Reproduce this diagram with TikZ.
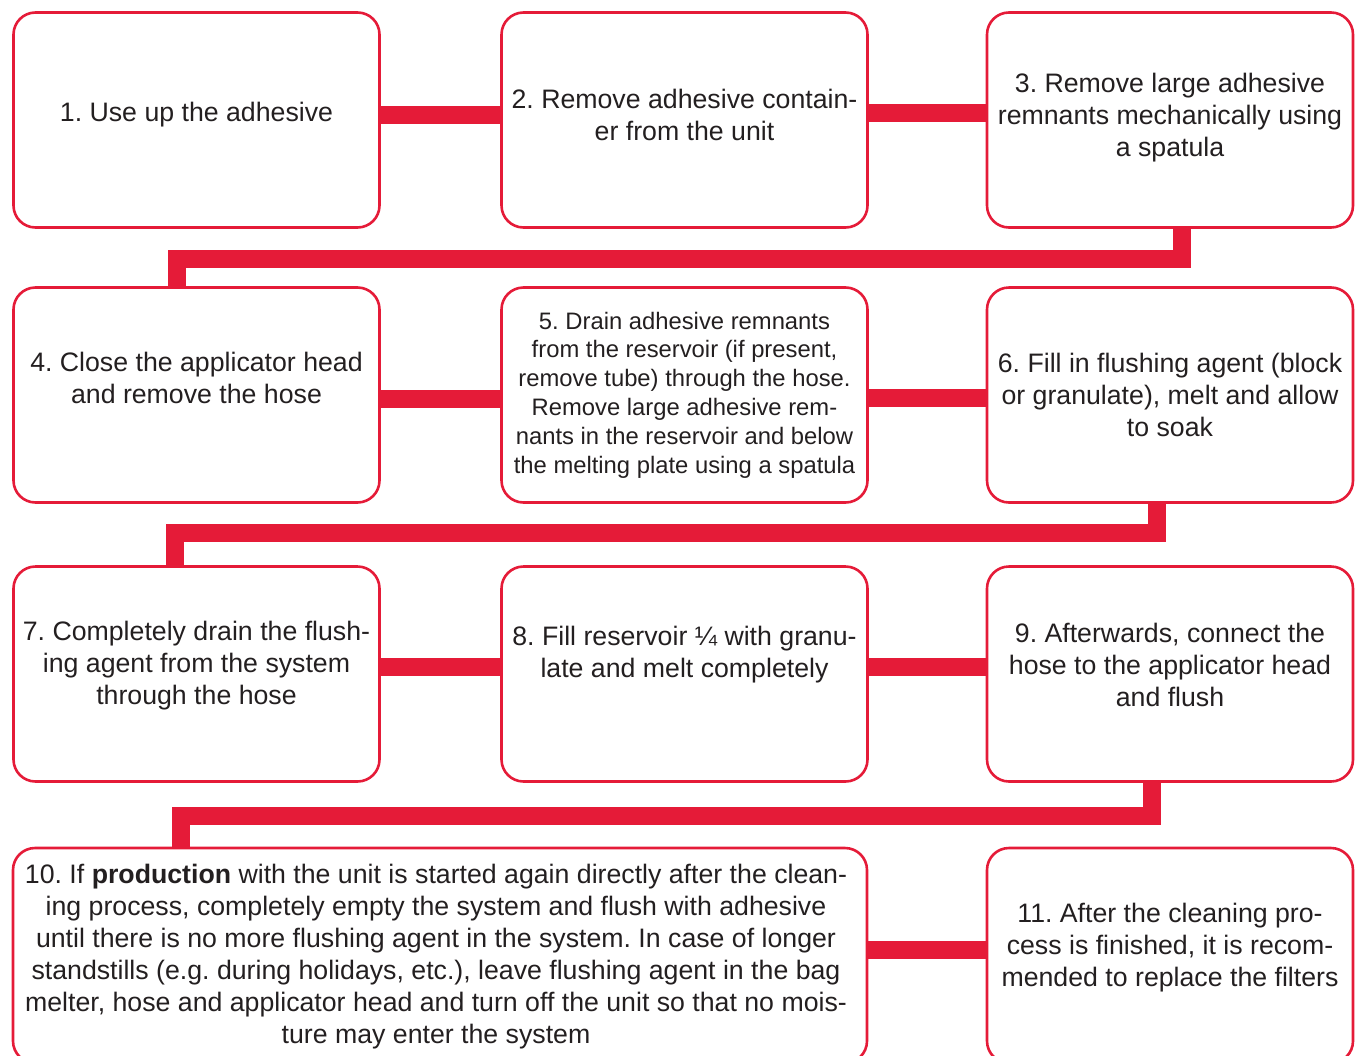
\documentclass[tikz,border=0pt]{standalone}
\usepackage{fontspec}
\setmainfont{Liberation Sans}
\usetikzlibrary{positioning, calc}
\definecolor{flowred}{RGB}{229,27,56}
\definecolor{inkgray}{RGB}{35,31,32}
\newcommand{\stepfont}{\fontsize{26.7}{32}\selectfont}
\newcommand{\smallstepfont}{\fontsize{23.8}{28.8}\selectfont}
\frenchspacing

\begin{document}
\begin{tikzpicture}[x=1pt, y=-1pt,
    stepbox/.style={draw=flowred, line width=2.6pt, rounded corners=22pt, minimum width=366pt, minimum height=215pt},
    steptext/.style={align=center, text=inkgray, font=\stepfont, inner sep=0pt},
    link/.style={flowred, line width=18pt}]
    \useasboundingbox (0,0) rectangle (1362,1055);
    % boxes
    \node[stepbox] (b1) at (196.5,120) {};
    \node[stepbox] (b2) at (684.5,120) {};
    \node[stepbox] (b3) at (1170,120) {};
    \node[stepbox] (b4) at (196.5,395) {};
    \node[stepbox] (b5) at (684.5,395) {};
    \node[stepbox] (b6) at (1170,395) {};
    \node[stepbox] (b7) at (196.5,674) {};
    \node[stepbox] (b8) at (684.5,674) {};
    \node[stepbox] (b9) at (1170,674) {};
    \node[stepbox, minimum width=854pt] (b10) at (440,955.5) {};
    \node[stepbox] (b11) at (1170,955.5) {};
    % texts
    \node[steptext] (t1) at (196.5,115) {1. Use up the adhesive};
    \node[steptext] (t2) at (684.5,115) {2. Remove adhesive contain-\\er from the unit};
    \node[steptext] (t3) at (1170,118) {3. Remove large adhesive\\remnants mechanically using\\a spatula};
    \node[steptext] (t4) at (196.5,378) {4. Close the applicator head\\and remove the hose};
    \node[steptext, font=\smallstepfont] (t5) at (684.5,395) {5. Drain adhesive remnants\\from the reservoir (if present,\\remove tube) through the hose.\\Remove large adhesive rem-\\nants in the reservoir and below\\the melting plate using a spatula};
    \node[steptext] (t6) at (1170,395) {6. Fill in flushing agent (block\\or granulate), melt and allow\\to soak};
    \node[steptext] (t7) at (196.5,666) {7. Completely drain the flush-\\ing agent from the system\\through the hose};
    \node[steptext] (t8) at (684.5,655) {8. Fill reservoir ¼ with granu-\\late and melt completely};
    \node[steptext] (t9) at (1170,665) {9. Afterwards, connect the\\hose to the applicator head\\and flush};
    \node[steptext] (t10) at (436,957) {10. If \textbf{production} with the unit is started again directly after the clean-\\ing process, completely empty the system and flush with adhesive\\until there is no more flushing agent in the system. In case of longer\\standstills (e.g. during holidays, etc.), leave flushing agent in the bag\\melter, hose and applicator head and turn off the unit so that no mois-\\ture may enter the system};
    \node[steptext] (t11) at (1170,948) {11. After the cleaning pro-\\cess is finished, it is recom-\\mended to replace the filters};
    % connectors
    \draw[link] ([yshift=5pt]b1.east) -- ([yshift=5pt]b2.west);
    \draw[link] ([yshift=7.5pt]b2.east) -- ([yshift=7.5pt]b3.west);
    \draw[link] ([xshift=11.5pt]b3.south) -- ++(0,30) -| ([xshift=-19.5pt]b4.north);
    \draw[link] ([yshift=-3.5pt]b4.east) -- ([yshift=-3.5pt]b5.west);
    \draw[link] ([yshift=-3pt]b5.east) -- ([yshift=-3pt]b6.west);
    \draw[link] ([xshift=-13pt]b6.south) -- ++(0,29) -| ([xshift=-22pt]b7.north);
    \draw[link] ([yshift=7pt]b7.east) -- ([yshift=7pt]b8.west);
    \draw[link] ([yshift=7pt]b8.east) -- ([yshift=7pt]b9.west);
    \draw[link] ([xshift=-18.5pt]b9.south) -- ++(0,33) -| ([xshift=-15.5pt]b7.south |- b10.north);
    \draw[link] ([yshift=5.5pt]b10.east) -- ([yshift=5.5pt]b11.west);
\end{tikzpicture}
\end{document}
